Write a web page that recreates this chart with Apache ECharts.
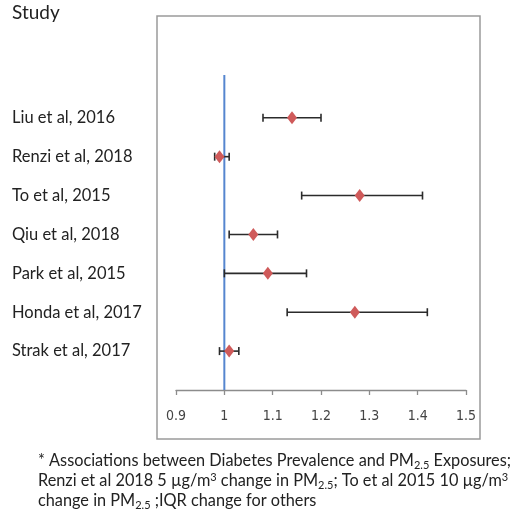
<!DOCTYPE html>
<html>
<head>
<meta charset="utf-8">
<style>
  html, body { margin: 0; padding: 0; background: #ffffff; }
  #chart { width: 525px; height: 511px; }
</style>
<script src="https://cdn.jsdelivr.net/npm/echarts@6/dist/echarts.min.js"></script>
</head>
<body>
<div id="chart"></div>
<script>
// Studies, listed top to bottom
const studies = ['Liu et al, 2016', 'Renzi et al, 2018', 'To et al, 2015', 'Qiu et al, 2018',
                 'Park et al, 2015', 'Honda et al, 2017', 'Strak et al, 2017'];
// Point estimates and 95% confidence limits
const estimate = [1.14, 0.99, 1.28, 1.06, 1.09, 1.27, 1.01];
const lower    = [1.08, 0.98, 1.16, 1.01, 1.00, 1.13, 0.99];
const upper    = [1.20, 1.01, 1.41, 1.11, 1.17, 1.42, 1.03];
// Horizontal axis ticks
const xTicks = [0.9, 1.0, 1.1, 1.2, 1.3, 1.4, 1.5];
// Null-effect reference value
const nullValue = 1;

const FONT = 'Lato, "Open Sans", sans-serif';
const NARROW = '"Liberation Sans Narrow", "DejaVu Sans Condensed", sans-serif';

// rows: first study sits highest
const rowOf = i => studies.length - i;

const ciData = studies.map((s, i) => [rowOf(i), lower[i], upper[i]]);
const pointData = studies.map((s, i) => [estimate[i], rowOf(i)]);

const chart = echarts.init(document.getElementById('chart'), null, { renderer: 'canvas' });

chart.setOption({
  animation: false,
  backgroundColor: '#ffffff',
  grid: { left: 176, right: 59, top: 75, bottom: 121, containLabel: false },
  xAxis: {
    type: 'value',
    min: xTicks[0],
    max: xTicks[xTicks.length - 1],
    interval: 0.1,
    offset: 3,
    axisLine: { show: true, lineStyle: { color: '#8c8c8c', width: 1.3 } },
    axisTick: { show: true, length: 5, lineStyle: { color: '#8c8c8c', width: 1.3 } },
    splitLine: { show: false },
    axisLabel: {
      margin: 16,
      color: '#444',
      fontFamily: NARROW,
      fontSize: 14,
      formatter: v => String(+v.toFixed(1))
    }
  },
  yAxis: {
    type: 'value',
    min: 0,
    max: 8.1,
    interval: 1,
    axisLine: { show: false },
    axisTick: { show: false },
    splitLine: { show: false },
    axisLabel: {
      showMaxLabel: false,
      align: 'left',
      margin: 164,
      color: '#222',
      fontFamily: FONT,
      fontSize: 16.5,
      formatter: v => (v >= 1 && v <= studies.length) ? studies[studies.length - v] : ''
    }
  },
  graphic: [
    {
      type: 'rect',
      shape: { x: 157, y: 16, width: 323, height: 423 },
      style: { fill: 'none', stroke: '#9a9a9a', lineWidth: 1.5 },
      silent: true
    },
    {
      type: 'text',
      left: 12, top: 3,
      style: { text: 'Study', fontFamily: FONT, fontSize: 19, fill: '#222' }
    },
    {
      type: 'text',
      left: 38, top: 451,
      style: {
        text:
          '{t|* Associations between Diabetes Prevalence and PM}{sub|2.5}{t| Exposures;}\n' +
          '{t|Renzi et al 2018 5 µg/m}{sup|3}{t| change in PM}{sub|2.5}{t|; To et al 2015 10 µg/m}{sup|3}\n' +
          '{t|change in PM}{sub|2.5}{t| ;IQR change for others}',
        fontFamily: FONT,
        fill: '#222',
        rich: {
          t: { fontFamily: FONT, fontSize: 16.3, lineHeight: 20, fill: '#222' },
          sub: { fontFamily: FONT, fontSize: 11, lineHeight: 20, fill: '#222', padding: [9, 0, 0, 0] },
          sup: { fontFamily: FONT, fontSize: 11, lineHeight: 20, fill: '#222', padding: [0, 0, 7, 0] }
        }
      }
    }
  ],
  series: [
    {
      // vertical reference line at the null value
      type: 'line',
      data: [[nullValue, 0], [nullValue, 8.1]],
      symbol: 'none',
      lineStyle: { color: '#5686cf', width: 2 },
      z: 1
    },
    {
      // confidence interval whiskers with end caps
      type: 'custom',
      data: ciData,
      encode: { x: [1, 2], y: 0 },
      renderItem: function (params, api) {
        const row = api.value(0);
        const a = api.coord([api.value(1), row]);
        const b = api.coord([api.value(2), row]);
        const h = 4;
        const style = { stroke: '#2b2b2b', lineWidth: 1.6 };
        return {
          type: 'group',
          children: [
            { type: 'line', shape: { x1: a[0], y1: a[1], x2: b[0], y2: b[1] }, style },
            { type: 'line', shape: { x1: a[0], y1: a[1] - h, x2: a[0], y2: a[1] + h }, style },
            { type: 'line', shape: { x1: b[0], y1: b[1] - h, x2: b[0], y2: b[1] + h }, style }
          ]
        };
      },
      z: 2
    },
    {
      // point estimates
      type: 'scatter',
      data: pointData,
      symbol: 'diamond',
      symbolSize: [10, 13],
      itemStyle: { color: '#cf5a5a', opacity: 1 },
      z: 3
    }
  ]
});
</script>
</body>
</html>
